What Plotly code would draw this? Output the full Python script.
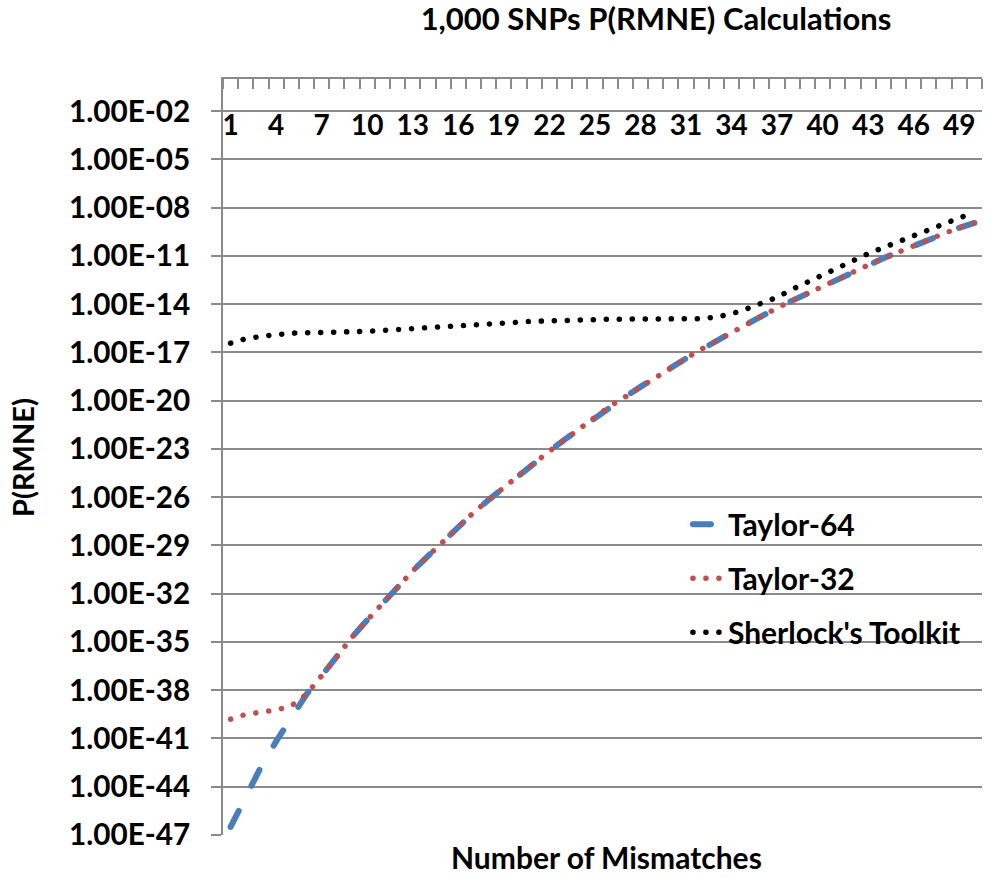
import plotly.graph_objects as go

# ---- data (log10 of P(RMNE)) ----
mismatches = list(range(1, 51))

taylor64_log10 = [
    -46.5, -44.58, -42.77, -41.18, -39.74, -38.25, -37.1, -35.88, -34.7, -33.64,
    -32.6, -31.59, -30.58, -29.66, -28.72, -27.82, -26.96, -26.16, -25.38, -24.58,
    -23.88, -23.14, -22.42, -21.74, -21.02, -20.33, -19.76, -19.14, -18.51, -17.96,
    -17.37, -16.8, -16.27, -15.75, -15.25, -14.72, -14.23, -13.78, -13.33, -12.85,
    -12.4, -11.98, -11.57, -11.15, -10.75, -10.37, -9.97, -9.6, -9.25, -8.95,
]

taylor32_log10 = [
    -39.8, -39.5, -39.36, -39.23, -38.97, -38.25, -37.1, -35.88, -34.7, -33.64,
    -32.6, -31.59, -30.58, -29.66, -28.72, -27.82, -26.96, -26.16, -25.38, -24.58,
    -23.88, -23.14, -22.42, -21.74, -21.02, -20.33, -19.76, -19.14, -18.51, -17.96,
    -17.37, -16.8, -16.27, -15.75, -15.25, -14.72, -14.23, -13.78, -13.33, -12.85,
    -12.4, -11.98, -11.57, -11.15, -10.75, -10.37, -9.97, -9.6, -9.25, -8.95,
]

sherlock_log10 = [
    -16.42, -16.15, -16.0, -15.88, -15.8, -15.78, -15.77, -15.75, -15.73, -15.69,
    -15.63, -15.57, -15.52, -15.46, -15.38, -15.3, -15.24, -15.17, -15.13, -15.09,
    -15.06, -15.04, -15.0, -14.97, -14.94, -14.93, -14.93, -14.93, -14.93, -14.93,
    -14.92, -14.9, -14.8, -14.6, -14.29, -13.93, -13.57, -13.07, -12.62, -12.17,
    -11.74, -11.28, -10.86, -10.48, -10.1, -9.71, -9.35, -8.99, -8.64, -8.29,
]

x_tick_vals = list(range(1, 51, 3))
x_tick_text = [str(v) for v in x_tick_vals]
y_tick_exps = list(range(-47, 0, 3))
y_tick_text = ["1.00E-%02d" % (-e) for e in y_tick_exps]

series_names = ["Taylor-64", "Taylor-32", "Sherlock's Toolkit"]

# ---- styling ----
FONT = "Lato"
GRID = "#8a8a8a"
BLUE = "#4A7EBB"
RED = "#C0504D"
BLACK = "#000000"

fig = go.Figure()
series = [
    (series_names[0], taylor64_log10, BLUE, 6, "18px,28px"),
    (series_names[1], taylor32_log10, RED, 5.5, "0.1px,12.9px"),
    (series_names[2], sherlock_log10, BLACK, 5.5, "0.1px,12.9px"),
]
for i, (name, logs, color, w, dash) in enumerate(series):
    fig.add_trace(go.Scatter(
        x=mismatches,
        y=[10 ** v for v in logs],
        mode="lines",
        name=name,
        legendgroup="g%d" % i,
        line=dict(color=color, width=w, dash=dash),
        hoverinfo="skip",
    ))

# invisible helper trace so the label axis (xaxis2) is active
fig.add_trace(go.Scatter(x=[mismatches[0]], y=[10 ** sherlock_log10[0]],
                         xaxis="x2", mode="none", showlegend=False,
                         hoverinfo="skip"))

y_label_axis_pos = (835 - 106) / 756

fig.update_layout(
    width=1000, height=878,
    margin=dict(l=223, r=18, t=79, b=43),
    paper_bgcolor="white", plot_bgcolor="white",
    font=dict(family=FONT, color="black", size=26, weight="bold"),
    showlegend=True,
    legend=dict(
        x=0.6125, xanchor="left", y=0.4455, yanchor="top",
        bgcolor="rgba(0,0,0,0)", borderwidth=0,
        font=dict(family=FONT, size=30, color="black", weight="bold"),
        tracegroupgap=12,
    ),
    title=dict(
        text="1,000 SNPs P(RMNE) Calculations",
        x=0.5705, xref="paper", xanchor="center",
        y=1 - 19 / 878, yref="container", yanchor="middle",
        font=dict(family=FONT, size=31, color="black", weight="bold"),
    ),
    xaxis=dict(
        range=[0.5, 50.5],
        side="top",
        showgrid=False, zeroline=False,
        showline=True, linecolor=GRID, linewidth=1.5,
        showticklabels=False,
        tickmode="array", tickvals=x_tick_vals, ticks="",
        minor=dict(tickmode="linear", tick0=0.5, dtick=1, ticks="inside",
                   ticklen=10, tickwidth=1.5, tickcolor=GRID, showgrid=False),
    ),
    xaxis2=dict(
        range=[0.5, 50.5],
        overlaying="x", anchor="free", position=y_label_axis_pos,
        side="bottom",
        showgrid=False, zeroline=False, showline=False,
        tickmode="array", tickvals=x_tick_vals, ticktext=x_tick_text,
        ticks="", ticklabelstandoff=0,
        tickfont=dict(family=FONT, size=28, color="black", weight="bold"),
    ),
    yaxis=dict(
        type="log",
        range=[-47, 0],
        showgrid=True, gridcolor=GRID, gridwidth=1.5,
        zeroline=False,
        showline=True, linecolor=GRID, linewidth=1.5,
        tickmode="array",
        tickvals=[10 ** e for e in y_tick_exps],
        ticktext=y_tick_text,
        ticks="outside", ticklen=10, tickwidth=1.5, tickcolor=GRID,
        ticklabelstandoff=15,
        tickfont=dict(family=FONT, size=29.7, color="black", weight="bold"),
    ),
    annotations=[
        dict(text="Number of Mismatches", xref="paper", yref="paper",
             x=0.505, y=-(857 - 835) / 756, xanchor="center", yanchor="middle",
             showarrow=False,
             font=dict(family=FONT, size=30, color="black", weight="bold")),
        dict(text="P(RMNE)", xref="paper", yref="paper",
             x=(22 - 223) / 759, y=0.5, xanchor="center", yanchor="middle",
             textangle=-90, showarrow=False,
             font=dict(family=FONT, size=29, color="black", weight="bold")),
    ],
)

post = (
    "document.body.style.margin='0';"
    "var s=document.createElement('style');"
    "s.textContent='.scatterlayer path.js-line, .legendlines path{stroke-linecap:round;}';"
    "document.head.appendChild(s);"
)
fig.write_html("out.html", post_script=post, config={"displayModeBar": False})
